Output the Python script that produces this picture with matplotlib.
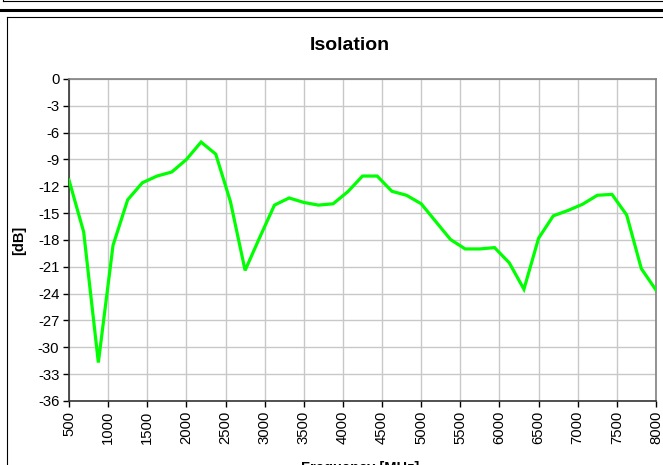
import matplotlib
matplotlib.use("Agg")
import matplotlib.pyplot as plt
from matplotlib.lines import Line2D

plt.rcParams['font.family'] = ['Liberation Sans', 'DejaVu Sans']
plt.rcParams['axes.unicode_minus'] = False

freq_start = 500
freq_step = 187.5
isolation_db = [
    -11.3, -17.1, -31.7, -18.6, -13.5, -11.6, -10.85, -10.4, -9.0, -7.05,
    -8.4, -13.7, -21.4, -17.7, -14.1, -13.3, -13.8, -14.1, -13.95, -12.6,
    -10.85, -10.85, -12.55, -13.0, -13.95, -15.95, -17.95, -19.0, -19.0, -18.85,
    -20.55, -23.5, -17.8, -15.3, -14.7, -14.0, -13.0, -12.9, -15.2, -21.2,
    -23.6,
]
freqs = [freq_start + i * freq_step for i in range(len(isolation_db))]
x_ticks = list(range(500, 8001, 500))
y_ticks = list(range(0, -37, -3))
title = "Isolation"
xlabel = "Frequency [MHz]"
ylabel = "[dB]"

W, H = 663, 465
fig = plt.figure(figsize=(W / 100, H / 100), dpi=100)

def fx(px):
    return px / W

def fy(py):
    return 1 - py / H

# outer decorations (frames)
fig.add_artist(Line2D([fx(3), fx(663)], [fy(1.5), fy(1.5)], color='black', lw=0.8))
fig.add_artist(Line2D([fx(3), fx(3)], [fy(0), fy(1.5)], color='black', lw=0.8))
fig.add_artist(Line2D([0, 1], [fy(10), fy(10)], color='black', lw=2.2))
fig.add_artist(Line2D([fx(6.5), fx(663)], [fy(17.5), fy(17.5)], color='black', lw=0.8))
fig.add_artist(Line2D([fx(6.5), fx(6.5)], [fy(17.5), fy(465)], color='black', lw=0.8))

ax = fig.add_axes([fx(69), fy(401), (656 - 69) / W, (401 - 79) / H])
ax.plot(freqs, isolation_db, color='#00ff00', lw=2.3, solid_joinstyle='miter', zorder=3)
ax.set_xlim(500, 8000)
ax.set_ylim(-36, 0)
ax.set_xticks(x_ticks)
ax.set_yticks(y_ticks)
ax.set_xticklabels([str(v) for v in x_ticks], rotation=90, fontsize=10.7)
ax.set_yticklabels([str(v) for v in y_ticks], fontsize=10.7)
ax.grid(True, color='#c8c8c8', lw=1.0)
ax.set_axisbelow(True)
ax.tick_params(direction='out', length=4, width=1, color='black', pad=3)
for side in ['top', 'right']:
    ax.spines[side].set_color('#808080')
    ax.spines[side].set_linewidth(1.2)
for side in ['left', 'bottom']:
    ax.spines[side].set_color('#333333')
    ax.spines[side].set_linewidth(1.2)

fig.text(fx(350), fy(45), title, ha='center', va='center', fontsize=14, fontweight='bold')
fig.text(fx(19), fy(240), ylabel, ha='center', va='center', rotation=90, fontsize=10.5, fontweight='bold')
fig.text(fx(360), fy(461), xlabel, ha='center', va='top', fontsize=10.5, fontweight='bold')

fig.savefig('out.png', dpi=100)
